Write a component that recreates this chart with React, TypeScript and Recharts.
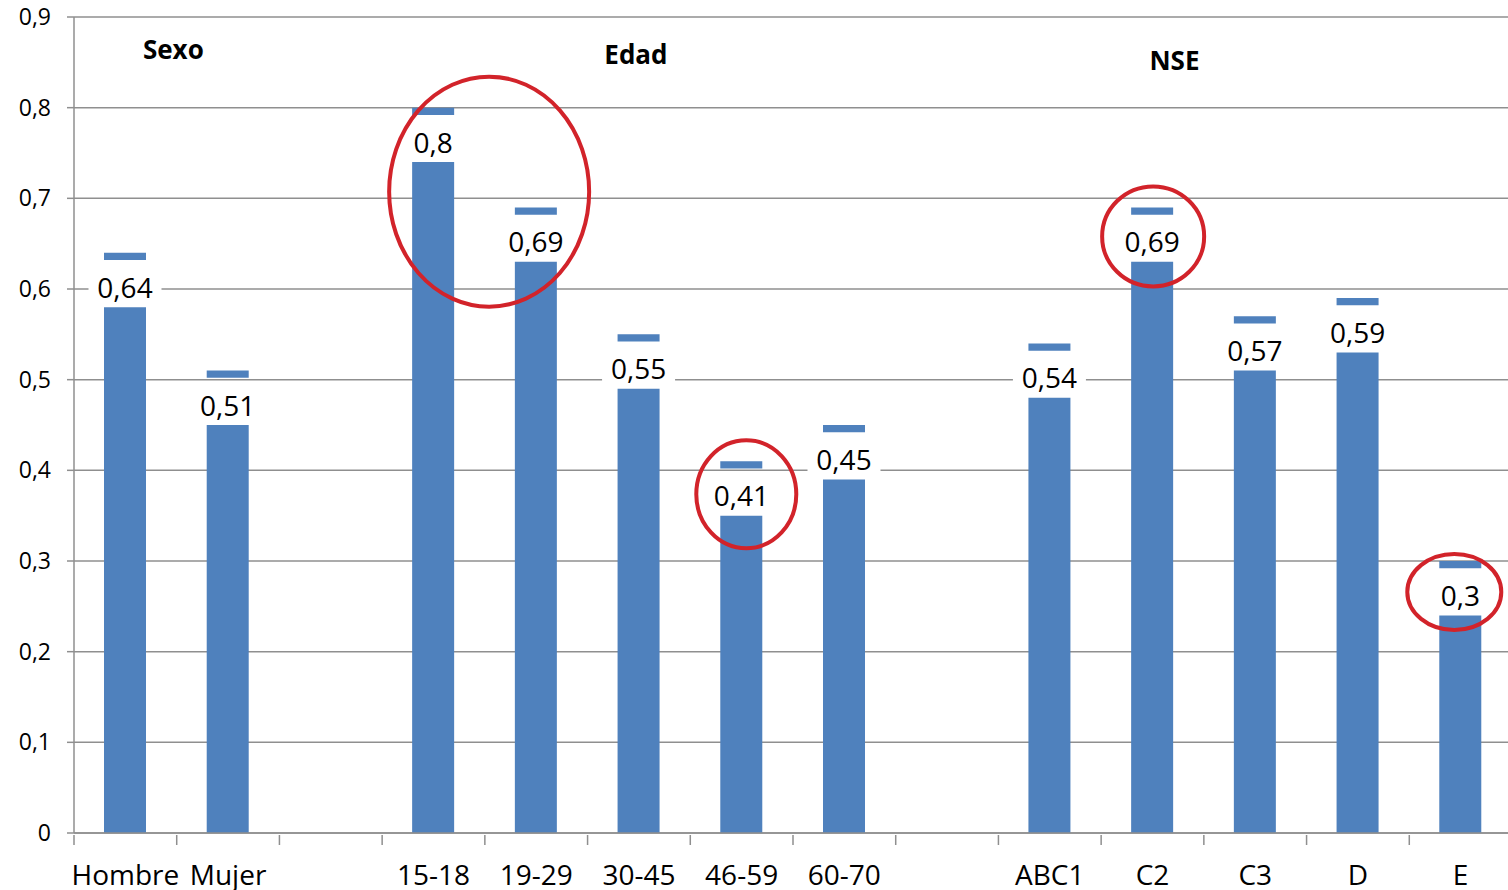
import { BarChart, Bar, XAxis, YAxis, CartesianGrid, LabelList, ReferenceDot } from "recharts";

// Segments of the chart (blank entries are the gaps between the groups)
const CATEGORIES = ["Hombre", "Mujer", " ", "15-18", "19-29", "30-45", "46-59", "60-70", "  ", "ABC1", "C2", "C3", "D", "E"];
// Value shown in the label (top of the small dash)
const LABEL_VALUES = [0.64, 0.51, null, 0.8, 0.69, 0.55, 0.41, 0.45, null, 0.54, 0.69, 0.57, 0.59, 0.3];
// Height of the main blue column
const BAR_VALUES = [0.58, 0.45, null, 0.74, 0.63, 0.49, 0.35, 0.39, null, 0.48, 0.63, 0.51, 0.53, 0.24];
// Thickness of the dash marker, in data units
const CAP = 0.008;

const Y_TICKS = [0, 0.1, 0.2, 0.3, 0.4, 0.5, 0.6, 0.7, 0.8, 0.9];

// Group headings: anchor category and value height
const GROUP_NAMES = ["Sexo", "Edad", "NSE"];
const GROUP_AT = ["Hombre", "30-45", "C2"];
const GROUP_Y = [0.8536, 0.848, 0.8415];

// Categories circled in red
const HIGHLIGHTED = ["15-18", "46-59", "C2", "E"];

const BLUE = "#4F81BD";
const GRID = "#8f8f8f";
const RED = "#D2232A";
const FONT = "'Open Sans', 'Liberation Sans', sans-serif";

// pixel styling of the headings / ellipses relative to their anchor
const GROUP_DX = [48, -3, 22];
const ELLIPSE_STYLE: Record<string, { dx: number; dy: number; rx: number; ry: number }> = {
  "15-18": { dx: 56, dy: 84, rx: 100, ry: 115 },
  "46-59": { dx: 5, dy: 33, rx: 50, ry: 54 },
  C2: { dx: 1, dy: 29, rx: 51, ry: 50 },
  E: { dx: -6, dy: 31, rx: 47, ry: 38 },
};

const data = CATEGORIES.map((name, i) => {
  const label = LABEL_VALUES[i];
  const bar = BAR_VALUES[i];
  if (label == null || bar == null) return { name };
  return { name, bar, gap: +(label - CAP - bar).toFixed(4), cap: CAP, label };
});

const fmt = (v: number) => (v === 0 ? "0" : String(v).replace(".", ","));

function ValueLabel(props: any) {
  const { x, y, width, height, value } = props;
  if (value == null) return null;
  const text = fmt(value);
  const cx = x + width / 2;
  const cy = y + height / 2 + 4;
  const w = text.length * 14 + 17;
  return (
    <g>
      <rect x={cx - w / 2} y={cy - 16} width={w} height={32} fill="#ffffff" />
      <text x={cx} y={cy} dy="0.36em" textAnchor="middle" fontSize={28} fontFamily={FONT} fill="#000">
        {text}
      </text>
    </g>
  );
}

function Highlight(props: any) {
  const { x, y, width, value } = props;
  if (!HIGHLIGHTED.includes(value)) return null;
  const s = ELLIPSE_STYLE[value];
  return (
    <ellipse
      cx={x + width / 2 + s.dx}
      cy={y + s.dy}
      rx={s.rx}
      ry={s.ry}
      fill="none"
      stroke={RED}
      strokeWidth={4}
    />
  );
}

function CategoryTick(props: any) {
  const { x, y, payload, index, visibleTicksCount } = props;
  const half = payload.offset ?? 51.35;
  const last = index === visibleTicksCount - 1;
  return (
    <g>
      <line x1={x - half} x2={x - half} y1={y} y2={y + 10} stroke={GRID} strokeWidth={1.5} />
      {last && <line x1={x + half} x2={x + half} y1={y} y2={y + 10} stroke={GRID} strokeWidth={1.5} />}
      <text x={x} y={y + 50} textAnchor="middle" fontSize={28} fontFamily={FONT} fill="#000">
        {payload.value}
      </text>
    </g>
  );
}

export default function App() {
  return (
    <div style={{ position: "absolute", left: 0, top: 0, width: 1508, height: 890, overflow: "hidden", background: "#fff" }}>
      <BarChart
        width={1508}
        height={890}
        data={data}
        margin={{ top: 17, right: -4, left: 0, bottom: 0 }}
        barSize={42}
      >
        <CartesianGrid vertical={false} stroke={GRID} strokeWidth={1.5} />
        <XAxis
          dataKey="name"
          interval={0}
          height={57}
          axisLine={{ stroke: GRID, strokeWidth: 1.5 }}
          tickLine={false}
          tickSize={0}
          tick={<CategoryTick />}
        />
        <YAxis
          domain={[0, 0.9]}
          ticks={Y_TICKS}
          width={74}
          tickSize={7}
          tickMargin={16}
          axisLine={{ stroke: GRID, strokeWidth: 1.5 }}
          tickLine={{ stroke: GRID, strokeWidth: 1.5 }}
          tick={{ fontSize: 23, fill: "#000", fontFamily: FONT }}
          tickFormatter={fmt}
        />
        <Bar dataKey="bar" stackId="s" fill={BLUE} isAnimationActive={false} />
        <Bar dataKey="gap" stackId="s" fill="transparent" isAnimationActive={false}>
          <LabelList dataKey="label" content={<ValueLabel />} />
        </Bar>
        <Bar dataKey="cap" stackId="s" fill={BLUE} isAnimationActive={false}>
          <LabelList dataKey="name" content={<Highlight />} />
        </Bar>
        {GROUP_NAMES.map((g, i) => (
          <ReferenceDot
            key={g}
            x={GROUP_AT[i]}
            y={GROUP_Y[i]}
            ifOverflow="visible"
            shape={(p: any) => (
              <text
                x={p.cx + GROUP_DX[i]}
                y={p.cy}
                textAnchor="middle"
                fontSize={26}
                fontWeight="bold"
                fontFamily={FONT}
                fill="#000"
              >
                {g}
              </text>
            )}
          />
        ))}
      </BarChart>
    </div>
  );
}
